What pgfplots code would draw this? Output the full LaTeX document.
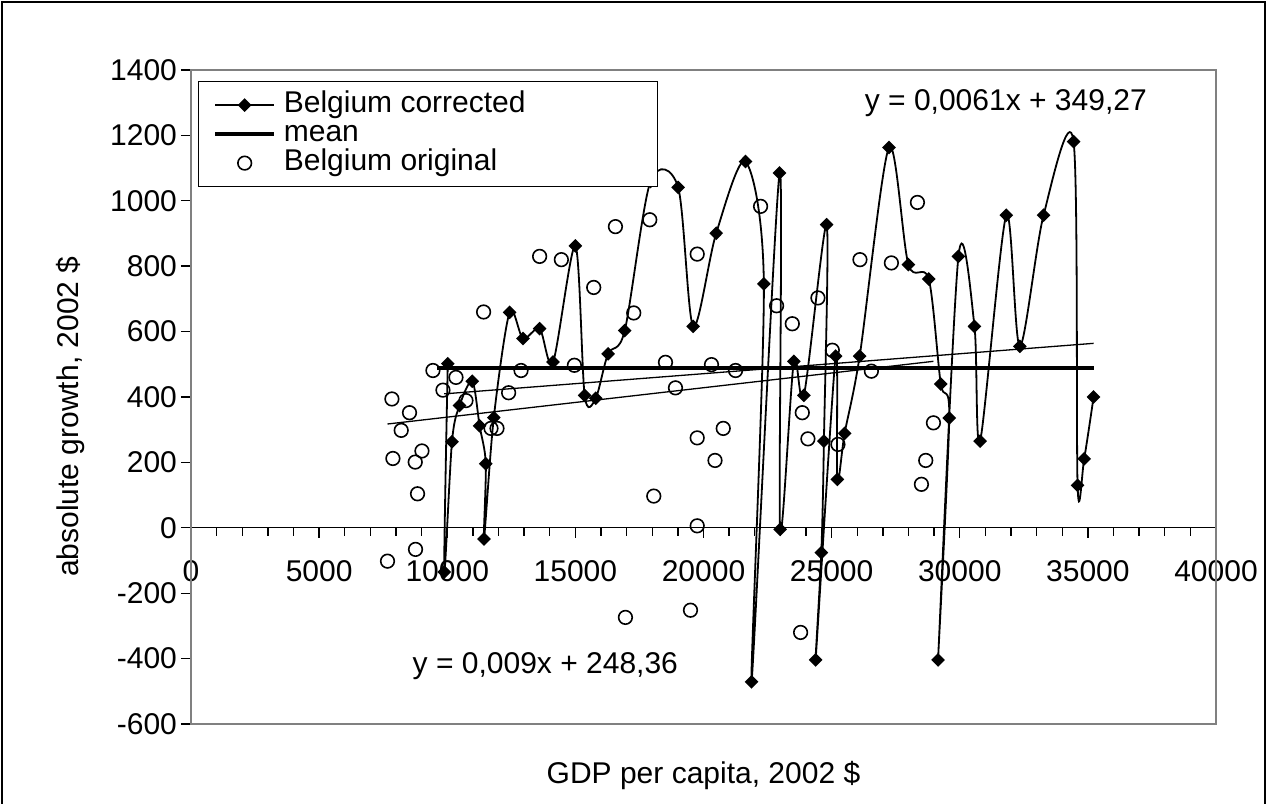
\documentclass[border=0pt]{standalone}
\usepackage{fontspec}
\setmainfont{Liberation Sans}
\usepackage{pgfplots}
\usepackage{pgfplotstable}
\pgfplotsset{compat=1.18}
\definecolor{framegray}{HTML}{808080}

% Belgium corrected (in data order)
\pgfplotstableread{
x y
10020 502
9883 -135
10184 263
10480 374
10977 448
11262 312
11504 196
11434 -34
11816 337
12434 659
12957 579
13605 609
14129 507
15000 862
15363 405
15793 396
16277 532
16926 603
17930 1059
19010 1041
19597 616
20496 901
21641 1120
22355 746
21875 -471
22969 1085
22990 -5
23527 509
23918 405
24805 927
24699 265
24598 -76
24375 -404
25156 525
25223 148
25508 289
26094 525
27238 1163
27996 805
28789 761
29258 440
29590 336
29152 -404
29949 830
30574 616
30793 265
31816 956
32344 555
33270 956
34441 1181
34598 130
34855 211
35223 400
}\corrected

% Belgium original
\pgfplotstableread{
x y
7668 -102
8762 -66
7840 394
8527 352
8203 298
9012 235
7879 212
8750 201
8840 104
9441 481
9832 421
10340 460
10730 389
11418 660
11707 304
11941 304
12395 413
12879 481
13605 830
14453 820
14961 497
15715 735
16563 921
17277 657
17903 942
18059 97
18516 506
18906 428
19754 837
19754 275
19754 6
20312 499
20449 206
20770 304
21250 481
22227 983
22852 679
23465 624
23855 352
24074 272
24465 703
25027 543
25246 255
26105 820
26551 479
27332 810
28348 995
28504 133
28672 206
28973 321
23789 -320
16953 -274
19492 -252
}\original

\begin{document}
\begin{tikzpicture}[font=\fontsize{15}{18}\selectfont]
\useasboundingbox (0,0) rectangle (633.5pt,401.5pt);
\draw[line width=1pt] (1pt,-5pt) -- (1pt,400.5pt) -- (632.5pt,400.5pt) -- (632.5pt,-5pt);
\begin{axis}[
  at={(95.5pt,39.5pt)}, anchor=south west,
  scale only axis, width=512.5pt, height=327pt,
  xmin=0, xmax=40000, ymin=-600, ymax=1400,
  clip=false,
  scaled x ticks=false, scaled y ticks=false,
  axis x line=middle, axis y line=left,
  axis line style={-, line width=0.7pt, black},
  hide obscured x ticks=false, hide obscured y ticks=false,
  xtick={0,5000,...,40000},
  xticklabels={0,5000,10000,15000,20000,25000,30000,35000,40000},
  minor x tick num=4,
  ytick={-600,-400,...,1400},
  yticklabels={-600,-400,-200,0,200,400,600,800,1000,1200,1400},
  tick align=outside,
  major tick length=5pt, minor tick length=4pt,
  tick style={black, line width=0.7pt},
  xticklabel style={anchor=north, yshift=-8pt},
  yticklabel style={anchor=east, xshift=1.5pt},
  tick label style={font=\fontsize{15}{18}\selectfont},
  xlabel={GDP per capita, 2002 \$},
  ylabel={absolute growth, 2002 \$},
  every axis x label/.style={at={(axis description cs:0.5,-0.078)}, anchor=center},
  every axis y label/.style={at={(axis description cs:-0.118,0.47)}, rotate=90, anchor=center},
  legend style={at={(rel axis cs:0.0068,0.983)}, anchor=north west,
    draw=black, line width=0.5pt, fill=white,
    inner xsep=7.5pt, inner ysep=4.5pt, row sep=0pt, column sep=4pt,
    nodes={inner sep=0pt, text height=11pt, text depth=3.5pt},
    font=\fontsize{15}{18}\selectfont},
  legend cell align=left,
]
\draw[framegray, line width=1pt] (rel axis cs:0,0) rectangle (rel axis cs:1,1);

\addplot[black, line width=0.9pt, smooth, tension=0.5, mark=diamond*, mark size=2.8pt,
  mark options={xscale=1.33, solid, fill=black},
  legend image code/.code={\draw[mark repeat=2,mark phase=2] plot coordinates {(0pt,0pt) (14.75pt,0pt) (29.5pt,0pt)};}]
  table[x=x,y=y] {\corrected};
\addlegendentry{\makebox[179.5pt][l]{Belgium corrected}}

\addplot[black, line width=1.7pt, no marks,
  legend image code/.code={\draw (0pt,0pt) -- (29.5pt,0pt);}]
  coordinates {(9600,489) (35223,489)};
\addlegendentry{mean}

\addplot[black, only marks, mark=o, mark size=3.4pt, line width=0.8pt,
  legend image code/.code={\draw plot coordinates {(14.75pt,0pt)};}]
  table[x=x,y=y] {\original};
\addlegendentry{Belgium original}

\addplot[black, line width=0.65pt, no marks, forget plot]
  coordinates {(9883,409.6) (35223,564.1)};
\addplot[black, line width=0.65pt, no marks, forget plot]
  coordinates {(7668,317.4) (28973,509.1)};

\node[anchor=center] at (axis cs:31797,1299) {y = 0,0061x + 349,27};
\node[anchor=center] at (axis cs:13828,-423) {y = 0,009x + 248,36};
\end{axis}
\end{tikzpicture}
\end{document}
